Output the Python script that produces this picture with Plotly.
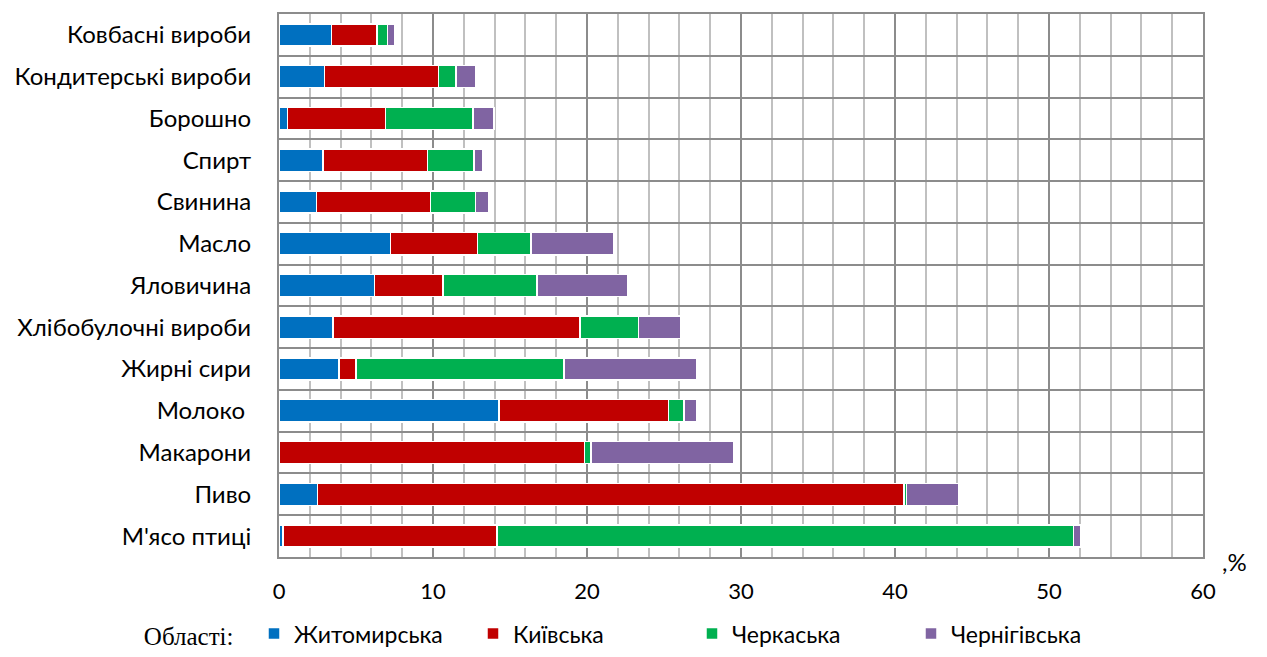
import plotly.graph_objects as go

categories = ["Ковбасні вироби", "Кондитерські вироби", "Борошно", "Спирт", "Свинина",
              "Масло", "Яловичина", "Хлібобулочні вироби", "Жирні сири", "Молоко ",
              "Макарони", "Пиво", "М'ясо птиці"]

series_names = ["Житомирська", "Київська", "Черкаська", "Чернігівська"]
zhytomyr = [3.4, 2.95, 0.55, 2.85, 2.45, 7.25, 6.2, 3.5, 3.9, 14.3, 0.0, 2.5, 0.25]
kyiv = [2.95, 7.4, 6.35, 6.8, 7.4, 5.65, 4.45, 16.05, 1.1, 11.0, 19.85, 38.1, 13.9]
cherkasy = [0.7, 1.15, 5.7, 3.0, 2.9, 3.45, 6.1, 3.8, 13.5, 1.0, 0.4, 0.15, 37.45]
chernihiv = [0.45, 1.3, 1.35, 0.6, 0.9, 5.4, 5.9, 2.75, 8.6, 0.85, 9.25, 3.4, 0.45]
colors = ["#0070C0", "#C00000", "#00B050", "#8064A2"]
x_ticks = [0, 10, 20, 30, 40, 50, 60]

fig = go.Figure()
for name, vals, col in zip(series_names, [zhytomyr, kyiv, cherkasy, chernihiv], colors):
    fig.add_trace(go.Bar(
        y=categories, x=vals, name=name, orientation="h",
        marker=dict(color=col, line=dict(color="white", width=1.5)),
    ))

fig.update_layout(
    barmode="stack",
    bargap=0.47,
    width=1251, height=641,
    margin=dict(l=271, r=56, t=4, b=92),
    paper_bgcolor="white", plot_bgcolor="white",
    font=dict(family="Lato", size=20, color="black"),
    showlegend=True,
    legend=dict(
        orientation="h", xref="container", yref="container",
        x=0.107, y=0.024, xanchor="left", yanchor="middle",
        title=dict(text="Області:  ", side="left",
                   font=dict(family="Liberation Serif", size=25)),
        font=dict(family="Lato", size=23),
        entrywidth=174, entrywidthmode="pixels",
        traceorder="normal",
        itemwidth=30,
    ),
    xaxis=dict(
        range=[0, 60], tickvals=x_ticks, ticks="",
        showgrid=True, gridcolor="#8c8c8c", gridwidth=1.5,
        minor=dict(dtick=2, showgrid=True, gridcolor="#c0c0c0", gridwidth=1.5),
        showline=True, linecolor="#8c8c8c", linewidth=2, mirror=True,
        zeroline=False, ticklabelstandoff=14,
        tickfont=dict(size=22),
    ),
    yaxis=dict(
        type="category", categoryorder="array", categoryarray=categories,
        autorange="reversed", tickson="boundaries", ticks="",
        showgrid=True, gridcolor="#8c8c8c", gridwidth=1.5,
        showline=True, linecolor="#8c8c8c", linewidth=2, mirror=True,
        ticklabelstandoff=21,
        tickfont=dict(size=24),
    ),
    annotations=[dict(text=",%", xref="paper", yref="paper", x=1.034, y=-0.008,
                      xanchor="center", yanchor="middle", showarrow=False,
                      font=dict(size=24))],
)

fig.write_html("out.html")
